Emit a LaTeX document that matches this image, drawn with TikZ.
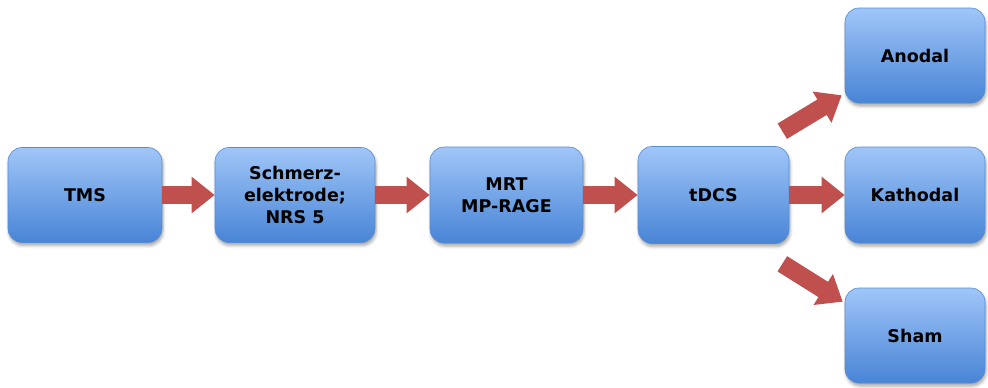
\documentclass[tikz,border=0pt]{standalone}
\usepackage{fontspec}
\setmainfont{DejaVu Sans}
\usetikzlibrary{arrows.meta,shadows.blur}
\definecolor{boxtop}{RGB}{160,198,248}
\definecolor{boxbot}{RGB}{72,132,214}
\definecolor{boxline}{RGB}{88,140,208}
\definecolor{arrowred}{RGB}{192,80,77}
\tikzset{
  stage/.style={rectangle, rounded corners=14pt, draw=boxline, line width=0.6pt,
    top color=boxtop, bottom color=boxbot,
    blur shadow={shadow xshift=1pt, shadow yshift=-3pt, shadow blur radius=3pt, shadow opacity=35},
    align=center, text=black,
    font=\fontsize{17.5}{22}\selectfont\bfseries, inner sep=0pt},
  flow/.style={draw=arrowred, line width=18pt,
    -{Triangle[length=23pt,width=35pt]}, arrowred}
}
\begin{document}
\begin{tikzpicture}[x=1pt,y=-1pt]
\useasboundingbox (0,0) rectangle (988,388);
% pipeline stages
\node[stage, minimum width=154pt, minimum height=95pt] (tms)     at (85,195)  {TMS};
\node[stage, minimum width=160pt, minimum height=95pt] (schmerz) at (295,195) {Schmerz-\\elektrode;\\NRS 5};
\node[stage, minimum width=153pt, minimum height=96pt] (mrt)     at (506.5,195) {MRT\\MP-RAGE};
\node[stage, minimum width=151pt, minimum height=97pt] (tdcs)    at (713.5,195) {tDCS};
% stimulation conditions
\node[stage, minimum width=140pt, minimum height=95pt] (anodal)   at (915,55.5)  {Anodal};
\node[stage, minimum width=140pt, minimum height=96pt] (kathodal) at (915,195)   {Kathodal};
\node[stage, minimum width=140pt, minimum height=95pt] (sham)     at (915,335.5) {Sham};
% connectors
\draw[flow] (tms) -- (schmerz);
\draw[flow] (schmerz) -- (mrt);
\draw[flow] (mrt) -- (tdcs);
\draw[flow] (tdcs) -- (kathodal);
\draw[flow] ([xshift=-7pt,yshift=15pt]tdcs.north east) -- ([xshift=-3pt,yshift=8pt]anodal.south west);
\draw[flow] ([xshift=-7pt,yshift=-20pt]tdcs.south east) -- ([xshift=-2pt,yshift=-14pt]sham.north west);
\end{tikzpicture}
\end{document}
